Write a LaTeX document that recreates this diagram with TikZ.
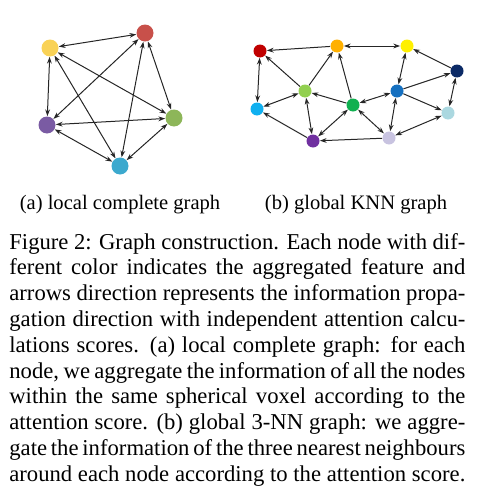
\documentclass[tikz,border=0pt]{standalone}
\usepackage{fontspec}
\setmainfont{Liberation Serif}
\usetikzlibrary{arrows.meta}

% colours of panel (a)
\definecolor{aYellow}{HTML}{F9D256}
\definecolor{aRed}{HTML}{C8504A}
\definecolor{aPurple}{HTML}{7A5BA3}
\definecolor{aGreen}{HTML}{8DB659}
\definecolor{aBlue}{HTML}{3CA9CE}
% colours of panel (b)
\definecolor{bRed}{HTML}{C00000}
\definecolor{bOrange}{HTML}{FFB000}
\definecolor{bYellow}{HTML}{FFF000}
\definecolor{bNavy}{HTML}{0B2A66}
\definecolor{bBlue}{HTML}{1570C0}
\definecolor{bLight}{HTML}{ABD8E0}
\definecolor{bLavender}{HTML}{C8C3E0}
\definecolor{bPurple}{HTML}{7030A0}
\definecolor{bGreen}{HTML}{10B050}
\definecolor{bLime}{HTML}{92D050}
\definecolor{bCyan}{HTML}{10B0F0}

\tikzset{
  dotA/.style={circle, minimum size=3.4mm, inner sep=0pt, fill=#1},
  dotB/.style={circle, minimum size=2.6mm, inner sep=0pt, fill=#1},
  link/.style={line width=0.2mm, black!85},
  one/.style={link, -{Stealth[length=1.35mm, width=0.95mm]}},
  both/.style={link, {Stealth[length=1.35mm, width=0.95mm]}-{Stealth[length=1.35mm, width=0.95mm]}},
  subcap/.style={font=\fontsize{11.7pt}{14pt}\selectfont, inner sep=0pt, anchor=base},
  capline/.style={font=\fontsize{12.9pt}{15pt}\selectfont, inner sep=0pt, anchor=base west},
}

\begin{document}
\begin{tikzpicture}[x=0.2mm, y=-0.2mm]
\useasboundingbox (0,0) rectangle (480,487);

% (a) local complete graph
\foreach \n/\x/\y/\c in {ya/50/48/aYellow, ra/145/33/aRed, pa/47/125/aPurple,
                         ga/174/118/aGreen, ba/120/166/aBlue} {
  \node[dotA=\c] (\n) at (\x,\y) {};
}
\foreach \s/\t in {ya/ra, ya/pa, ya/ga, ya/ba, ra/pa, ra/ba, ra/ga,
                   pa/ga, pa/ba, ga/ba} {
  \draw[both] (\s) -- (\t);
}
\node[subcap] (capa) at (120,209) {(a) local complete graph};

% (b) global KNN graph
\foreach \n/\x/\y/\c in {rb/260/51/bRed, ob/337/46/bOrange, yb/407/46/bYellow,
                         nb/457/71/bNavy, bb/397/91/bBlue, lb/448/113/bLight,
                         vb/389/138/bLavender, pb/313/141/bPurple, gb/353/105/bGreen,
                         mb/305/91/bLime, cb/257/109/bCyan} {
  \node[dotB=\c] (\n) at (\x,\y) {};
}
% one-way arrows
\foreach \s/\t in {ob/rb, mb/rb, mb/ob, gb/mb, gb/ob, pb/cb, vb/pb,
                   bb/nb, bb/lb, nb/yb} {
  \draw[one] (\s) -- (\t);
}
% two-way arrows
\foreach \s/\t in {rb/cb, ob/yb, mb/cb, mb/pb, gb/pb, gb/bb, gb/vb,
                   bb/yb, bb/vb, nb/lb, lb/vb} {
  \draw[both] (\s) -- (\t);
}
\node[subcap] (capb) at (356,209) {(b) global KNN graph};

% caption
\foreach \t [count=\i] in {
  {Figure 2: Graph construction. Each node with dif-},
  {ferent color indicates the aggregated feature and},
  {arrows direction represents the information propa-},
  {gation direction with independent attention calcu-},
  {lations scores. (a) local complete graph: for each},
  {node, we aggregate the information of all the nodes},
  {within the same spherical voxel according to the},
  {attention score. (b) global 3-NN graph: we aggre-},
  {gate the information of the three nearest neighbours},
  {around each node according to the attention score.}} {
  \node[capline] (line\i) at (9,{249+25.8*(\i-1)}) {\makebox[91.2mm][s]{\t}};
}
\end{tikzpicture}
\end{document}
